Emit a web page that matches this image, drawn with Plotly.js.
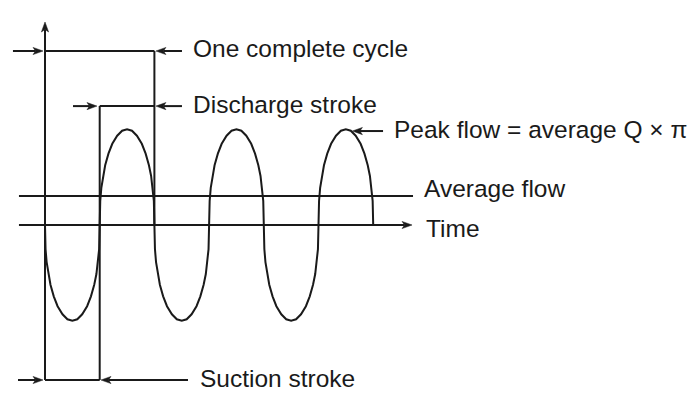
<!DOCTYPE html>
<html><head><meta charset="utf-8">
<script src="https://cdn.plot.ly/plotly-3.0.1.min.js"></script>
<style>html,body{margin:0;padding:0;background:#fff}#chart{width:700px;height:406px}</style>
</head><body><div id="chart"></div>
<script>
// ---- data ----
// one stroke (half cycle) of the pump flow curve: time in cycles, flow in units of average flow
const strokeTime = [0, 0.005, 0.015, 0.03, 0.05, 0.08, 0.115, 0.16, 0.205, 0.25, 0.295, 0.34, 0.385, 0.42, 0.45, 0.47, 0.485, 0.495, 0.5];
const strokeFlow = [0, 0.83, 1.28, 1.69, 2.06, 2.46, 2.80, 3.08, 3.25, 3.3, 3.25, 3.08, 2.80, 2.46, 2.06, 1.69, 1.28, 0.83, 0];
const strokeStart = [0, 0.5, 1, 1.5, 2, 2.5];
const strokeSign = [-1, 1, -1, 1, -1, 1];   // suction below the time axis, discharge above
const averageFlow = 1;
const cycleSpan = [0, 1];
const dischargeSpan = [0.5, 1];
const suctionSpan = [0, 0.5];
const labelText = ["One complete cycle", "Discharge stroke", "Peak flow = average Q \u00d7 \u03c0", "Average flow", "Time", "Suction stroke"];

// ---- layout / positions ----
const W = 700, H = 406;
const ORIGIN_PX = [45, 225], PX_PER_T = 109.4, PX_PER_F = 29;
const xr = [-ORIGIN_PX[0] / PX_PER_T, (W - ORIGIN_PX[0]) / PX_PER_T];
const yr = [-(H - ORIGIN_PX[1]) / PX_PER_F, ORIGIN_PX[1] / PX_PER_F];
const P = {
  axisLeft: -0.238, axisRight: 3.364, timeTip: 3.355, axisBottom: -5.345, axisTop: 7.0,
  cycleLevel: 6.0, dischargeLevel: 4.10,
  leftTail: -0.293, leftTip: -0.018, rightTail: 1.252, rightTip: 1.014,
  dischargeLeftTail: 0.256, dischargeLeftTip: 0.475,
  suctionLeftTail: -0.247, suctionRightTail: 1.307, suctionRightTip: 0.512,
  peakTail: [3.09, 3.24], peakTip: [2.81, 3.24]
};
const labelPos = [[1.33, 6.097], [1.33, 4.166], [3.176, 3.286], [3.442, 1.252], [3.46, -0.128], [1.403, -5.283]];
const INK = '#1a1a1a';

function toPx(t, f) { return [(t - xr[0]) / (xr[1] - xr[0]) * W, (yr[1] - f) / (yr[1] - yr[0]) * H]; }
function toData(px, py) { return [xr[0] + px / W * (xr[1] - xr[0]), yr[1] - py / H * (yr[1] - yr[0])]; }

// flow curve
const waveX = [], waveY = [];
strokeStart.forEach((s, k) => {
  strokeTime.forEach((t, i) => {
    if (k > 0 && i === 0) return;
    waveX.push(s + t); waveY.push(strokeSign[k] * strokeFlow[i]);
  });
});

// plain segments
const segX = [], segY = [];
function seg(a, b) { segX.push(a[0], b[0], null); segY.push(a[1], b[1], null); }
seg([P.axisLeft, averageFlow], [P.axisRight, averageFlow]);
seg([cycleSpan[0], P.cycleLevel], [cycleSpan[1], P.cycleLevel]);
seg([cycleSpan[1], P.cycleLevel], [cycleSpan[1], 0]);
seg([dischargeSpan[0], P.dischargeLevel], [dischargeSpan[1], P.dischargeLevel]);
seg([dischargeSpan[0], P.dischargeLevel], [dischargeSpan[0], P.axisBottom]);
seg([suctionSpan[0], P.axisBottom], [suctionSpan[1], P.axisBottom]);

// arrows
const headX = [], headY = [];
function arrow(tail, tip) {
  const p0 = toPx(tail[0], tail[1]), p1 = toPx(tip[0], tip[1]);
  let dx = p1[0] - p0[0], dy = p1[1] - p0[1];
  const len = Math.hypot(dx, dy); dx /= len; dy /= len;
  const L = 10, HW = 3.6, N = 7.5;
  const base = [p1[0] - dx * L, p1[1] - dy * L];
  const notch = [p1[0] - dx * N, p1[1] - dy * N];
  const a = [base[0] - dy * HW, base[1] + dx * HW];
  const b = [base[0] + dy * HW, base[1] - dx * HW];
  seg(tail, toData(notch[0], notch[1]));
  [p1, a, notch, b, p1].forEach(p => { const d = toData(p[0], p[1]); headX.push(d[0]); headY.push(d[1]); });
  headX.push(null); headY.push(null);
}
arrow([0, P.axisBottom], [0, P.axisTop]);
arrow([P.axisLeft, 0], [P.timeTip, 0]);
arrow([P.leftTail, P.cycleLevel], [P.leftTip, P.cycleLevel]);
arrow([P.rightTail, P.cycleLevel], [P.rightTip, P.cycleLevel]);
arrow([P.dischargeLeftTail, P.dischargeLevel], [P.dischargeLeftTip, P.dischargeLevel]);
arrow([P.rightTail, P.dischargeLevel], [P.rightTip, P.dischargeLevel]);
arrow([P.suctionLeftTail, P.axisBottom], [P.leftTip, P.axisBottom]);
arrow([P.suctionRightTail, P.axisBottom], [P.suctionRightTip, P.axisBottom]);
arrow(P.peakTail, P.peakTip);

const traces = [
  {x: segX, y: segY, mode: 'lines', line: {color: INK, width: 2}, hoverinfo: 'skip'},
  {x: waveX, y: waveY, mode: 'lines', line: {color: INK, width: 2}, hoverinfo: 'skip'},
  {x: headX, y: headY, mode: 'lines', fill: 'toself', fillcolor: INK, line: {color: INK, width: 0.5}, hoverinfo: 'skip'}
];

const annotations = labelText.map((txt, i) => ({
  text: txt, x: labelPos[i][0], y: labelPos[i][1], xref: 'x', yref: 'y',
  xanchor: 'left', yanchor: 'middle', showarrow: false,
  font: {family: 'Liberation Sans, Arial, sans-serif', size: 24.5, color: INK}
}));

const layout = {
  width: W, height: H, margin: {l: 0, r: 0, t: 0, b: 0},
  paper_bgcolor: '#fff', plot_bgcolor: '#fff', showlegend: false,
  xaxis: {range: xr, visible: false, fixedrange: true},
  yaxis: {range: yr, visible: false, fixedrange: true},
  annotations: annotations
};
Plotly.newPlot('chart', traces, layout, {staticPlot: true, displayModeBar: false});
</script></body></html>
